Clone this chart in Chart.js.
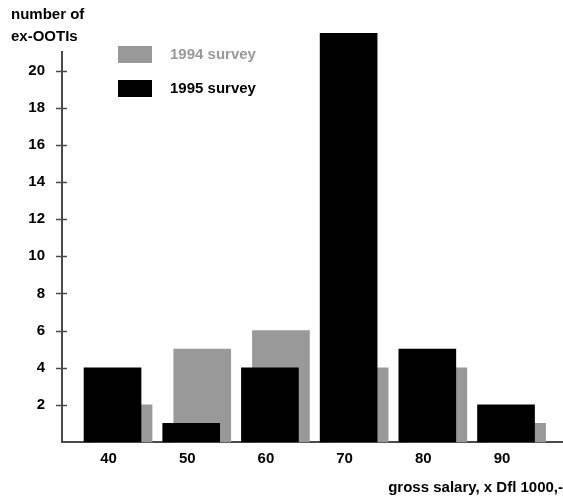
<!DOCTYPE html>
<html><head><meta charset="utf-8">
<script src="https://cdn.jsdelivr.net/npm/chart.js@4/dist/chart.umd.min.js"></script>
<style>html,body{margin:0;padding:0;background:#fff}</style>
</head><body>
<canvas id="c" width="563" height="497"></canvas>
<script>
const CATEGORIES = [40, 50, 60, 70, 80, 90];
const SURVEY_1994 = [2, 5, 6, 4, 4, 1];
const SURVEY_1995 = [4, 1, 4, 22, 5, 2];
const Y_TICKS = [2, 4, 6, 8, 10, 12, 14, 16, 18, 20];
const SERIES_LABELS = ['1994 survey', '1995 survey'];
const Y_TITLE = ['number of', 'ex-OOTIs'];
const X_TITLE = 'gross salary, x Dfl 1000,-';

const GRAY = '#999999';
const BLACK = '#000000';
const AXIS = '#4a4a4a';
const GRAY_SHIFT = 1.4; // horizontal offset of back bars (x units)
const FONT = '"Liberation Sans", Arial, Helvetica, sans-serif';
const FS = 15;

Chart.defaults.font.family = FONT;
Chart.defaults.font.weight = 'bold';
Chart.defaults.font.size = FS;
Chart.defaults.color = '#000';

const tickCross = {
  id: 'tickCross',
  afterDraw(chart) {
    const y = chart.scales.y, ctx = chart.ctx;
    const x0 = chart.chartArea.left;
    ctx.save();
    ctx.strokeStyle = AXIS;
    ctx.lineWidth = 1.5;
    y.ticks.forEach(t => {
      const py = Math.round(y.getPixelForValue(t.value)) + 0.5;
      ctx.beginPath();
      ctx.moveTo(x0 - 6, py);
      ctx.lineTo(x0 + 5, py);
      ctx.stroke();
    });
    ctx.restore();
  }
};

const boxLegend = {
  id: 'boxLegend',
  afterDraw(chart) {
    const ctx = chart.ctx;
    ctx.save();
    ctx.font = 'bold ' + FS + 'px ' + FONT;
    ctx.textBaseline = 'middle';
    const rows = [{ ds: chart.data.datasets[0], top: 46 }, { ds: chart.data.datasets[1], top: 80 }];
    rows.forEach(r => {
      ctx.fillStyle = r.ds.backgroundColor;
      ctx.fillRect(118, r.top, 34, 17);
      ctx.fillStyle = r.ds.legendTextColor;
      ctx.fillText(r.ds.label, 170, r.top + 9);
    });
    ctx.restore();
  }
};

new Chart(document.getElementById('c'), {
  type: 'bar',
  data: {
    datasets: [
      {
        label: SERIES_LABELS[0],
        data: CATEGORIES.map((c, i) => ({ x: c + GRAY_SHIFT, y: SURVEY_1994[i] })),
        backgroundColor: GRAY,
        legendTextColor: GRAY,
        order: 2,
        clip: false
      },
      {
        label: SERIES_LABELS[1],
        data: CATEGORIES.map((c, i) => ({ x: c, y: SURVEY_1995[i] })),
        backgroundColor: BLACK,
        legendTextColor: BLACK,
        order: 1,
        clip: false
      }
    ]
  },
  options: {
    responsive: false,
    animation: false,
    events: [],
    grouped: false,
    barThickness: 57,
    layout: { padding: { left: 11, right: 0, top: 0, bottom: 0 } },
    plugins: {
      legend: { display: false },
      tooltip: { enabled: false },
      title: {
        display: true,
        text: Y_TITLE,
        align: 'start',
        font: { size: FS, weight: 'bold', lineHeight: 22 / FS },
        padding: { top: 4, bottom: 4 }
      }
    },
    scales: {
      x: {
        type: 'linear',
        offset: false,
        min: 33.58,
        max: 97.24,
        afterBuildTicks: s => { s.ticks = CATEGORIES.map(v => ({ value: v })); },
        ticks: { padding: 8, labelOffset: -4, font: { size: FS, weight: 'bold' }, color: '#000' },
        grid: { display: true, drawOnChartArea: false, drawTicks: false },
        border: { display: true, color: AXIS, width: 2 },
        title: {
          display: true,
          text: X_TITLE,
          align: 'end',
          font: { size: FS, weight: 'bold' },
          color: '#000',
          padding: { top: 3, bottom: 0 }
        }
      },
      y: {
        min: 0,
        max: 21,
        afterBuildTicks: s => { s.ticks = Y_TICKS.map(v => ({ value: v })); },
        afterFit: s => { s.width = 51; },
        ticks: { padding: 17, font: { size: FS, weight: 'bold' }, color: '#000' },
        grid: { display: true, drawOnChartArea: false, drawTicks: false },
        border: { display: true, color: AXIS, width: 2 }
      }
    }
  },
  plugins: [tickCross, boxLegend]
});
</script>
</body></html>
